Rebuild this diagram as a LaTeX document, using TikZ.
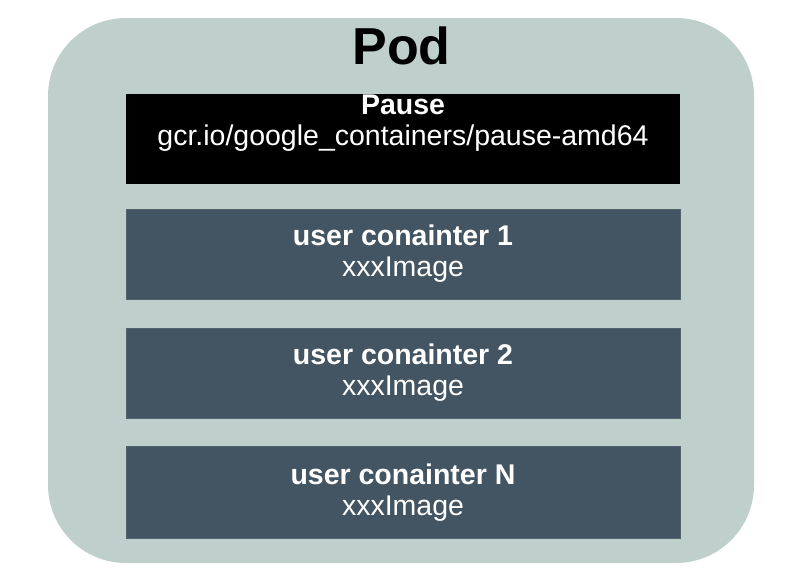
\documentclass[tikz,border=0pt]{standalone}
\usepackage{fontspec}
\setmainfont{Liberation Sans}
\usetikzlibrary{positioning}
\definecolor{podgrey}{HTML}{BFCFCB}
\definecolor{slate}{HTML}{435562}
\definecolor{slateline}{HTML}{52636E}

\begin{document}
\begin{tikzpicture}[x=1pt,y=-1pt,node distance=27pt,
                    pod frame/.style={rectangle,fill=podgrey,rounded corners=78pt,
                                      minimum width=706pt,minimum height=545pt},
                    pause box/.style={rectangle,fill=black,inner sep=0pt,
                                      minimum width=554pt,minimum height=90pt},
                    user box/.style={rectangle,fill=slate,draw=slateline,line width=0.8pt,
                                     text=white,align=center,inner sep=0pt,
                                     minimum width=554pt,minimum height=90pt,
                                     font=\fontsize{28.5}{31}\selectfont}]
  \useasboundingbox (0,0) rectangle (808,570);
  \node[pod frame] (frame) at (401,290.5) {};
  \node[font=\fontsize{52}{60}\selectfont\bfseries,anchor=base] (pod) at (401.5,64) {Pod};

  \node[pause box] (pause) at (403,138.5) {};
  \node[text=white,align=center,inner sep=0pt,anchor=north,
        font=\fontsize{28.5}{31}\selectfont] (pausetext) at ([yshift=-1.5pt]pause.north)
        {\textbf{Pause}\\gcr.io/google\_containers/pause-amd64};

  \node[user box] (user1) [below=25pt of pause] {\textbf{user conainter 1}\\xxxImage};
  \node[user box] (user2) [below=28pt of user1] {\textbf{user conainter 2}\\xxxImage};
  \node[user box,minimum height=92pt] (userN) [below=27.5pt of user2] {\textbf{user conainter N}\\xxxImage};
\end{tikzpicture}
\end{document}
